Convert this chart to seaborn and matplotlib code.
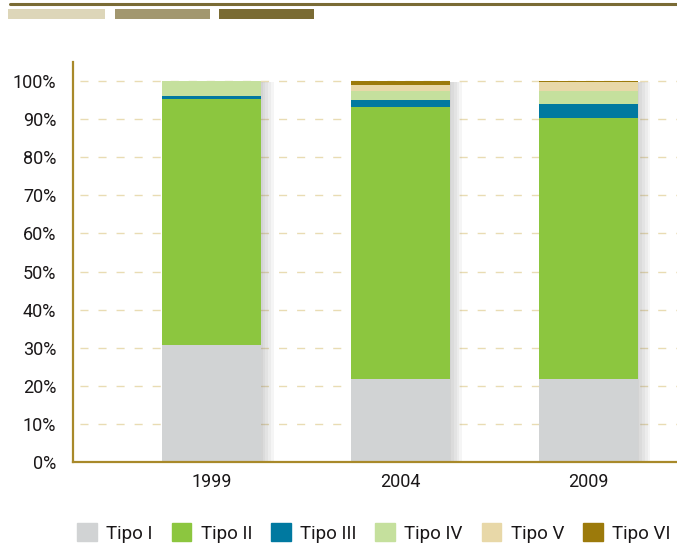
import numpy as np
import pandas as pd
import matplotlib
matplotlib.use("Agg")
import matplotlib.pyplot as plt
import matplotlib.patheffects as pe
from matplotlib.patches import Rectangle
import seaborn as sns

years = ["1999", "2004", "2009"]
series_names = ["Tipo I", "Tipo II", "Tipo III", "Tipo IV", "Tipo V", "Tipo VI"]
tipo_1 = [30.7, 21.8, 21.8]
tipo_2 = [64.6, 71.3, 68.6]
tipo_3 = [0.8, 1.9, 3.5]
tipo_4 = [3.9, 2.4, 3.5]
tipo_5 = [0.0, 1.5, 2.4]
tipo_6 = [0.0, 1.1, 0.2]
colors = ["#d1d3d4", "#8cc63f", "#0079a0", "#c5e09d", "#e8d8a8", "#9c7a0b"]
yticks = [0, 10, 20, 30, 40, 50, 60, 70, 80, 90, 100]

sns.set_theme(style="white")
plt.rcParams["font.family"] = ["Roboto", "DejaVu Sans"]
plt.rcParams["font.weight"] = "normal"

values = np.array([tipo_1, tipo_2, tipo_3, tipo_4, tipo_5, tipo_6])
cum = np.cumsum(values, axis=0)

fig = plt.figure(figsize=(6.77, 5.48), dpi=100)
ax = fig.add_axes([73 / 677, 86 / 548, (677 - 73) / 677, 400 / 548])

axis_col = "#a8892a"
text_col = "#1a1718"
fs = 13

# grid
for v in yticks[1:]:
    ax.axhline(v, color="#e9dcb3", lw=1.0, ls=(-5.0, (5.8, 7.2)), zorder=0)

shadow = [pe.SimplePatchShadow(offset=(o, -1), shadow_rgbFace="#777777", alpha=0.07) for o in (1, 3, 5, 7, 9)]
for i in reversed(range(len(series_names))):
    df = pd.DataFrame({"year": years, "val": cum[i]})
    sns.barplot(data=df, x="year", y="val", color=colors[i], width=0.525,
                saturation=1, ax=ax, zorder=2 + (5 - i) * 0.01, linewidth=0)
    if i == len(series_names) - 1:
        for p in ax.patches:
            p.set_path_effects(shadow + [pe.Normal()])

ax.set_xlim(-0.737, 2.47)
ax.set_ylim(0, 105)
ax.set_yticks(yticks)
ax.set_yticklabels([f"{v}%" for v in yticks], fontsize=fs, color=text_col)
ax.set_xticks(range(3))
ax.set_xticklabels(years, fontsize=fs, color=text_col)
ax.set_xlabel("")
ax.set_ylabel("")
ax.set_xticks([-0.5, 0.5, 1.5], minor=True)
ax.tick_params(axis="x", which="major", length=0, pad=8)
ax.tick_params(axis="x", which="minor", length=5, color=axis_col, width=1, direction="out")
ax.tick_params(axis="y", which="major", length=8, color="#eadfbf", width=1, direction="out", pad=4)

for s in ["top", "right"]:
    ax.spines[s].set_visible(False)
for s in ["left", "bottom"]:
    ax.spines[s].set_color(axis_col)
    ax.spines[s].set_linewidth(1.6)

# header decoration
fig.add_artist(plt.Line2D([10 / 677, 1], [1 - 3.5 / 548, 1 - 3.5 / 548], color="#7a6b35", lw=2.2))
for x0, x1, c in [(8, 105, "#ddd6b9"), (115, 210, "#a2976f"), (219, 314, "#7a6b33")]:
    fig.add_artist(Rectangle((x0 / 677, 1 - 19 / 548), (x1 - x0) / 677, 10 / 548,
                             color=c, transform=fig.transFigure, lw=0))

handles = [Rectangle((0, 0), 1, 1, color=c) for c in colors]
leg = fig.legend(handles, series_names, loc="center", bbox_to_anchor=(374 / 677, 1 - 533 / 548),
                 ncol=6, frameon=False, fontsize=13.5, handlelength=1.05, handleheight=1.05,
                 handletextpad=0.5, columnspacing=1.0, labelcolor=text_col)

fig.savefig("out.png", dpi=100)
